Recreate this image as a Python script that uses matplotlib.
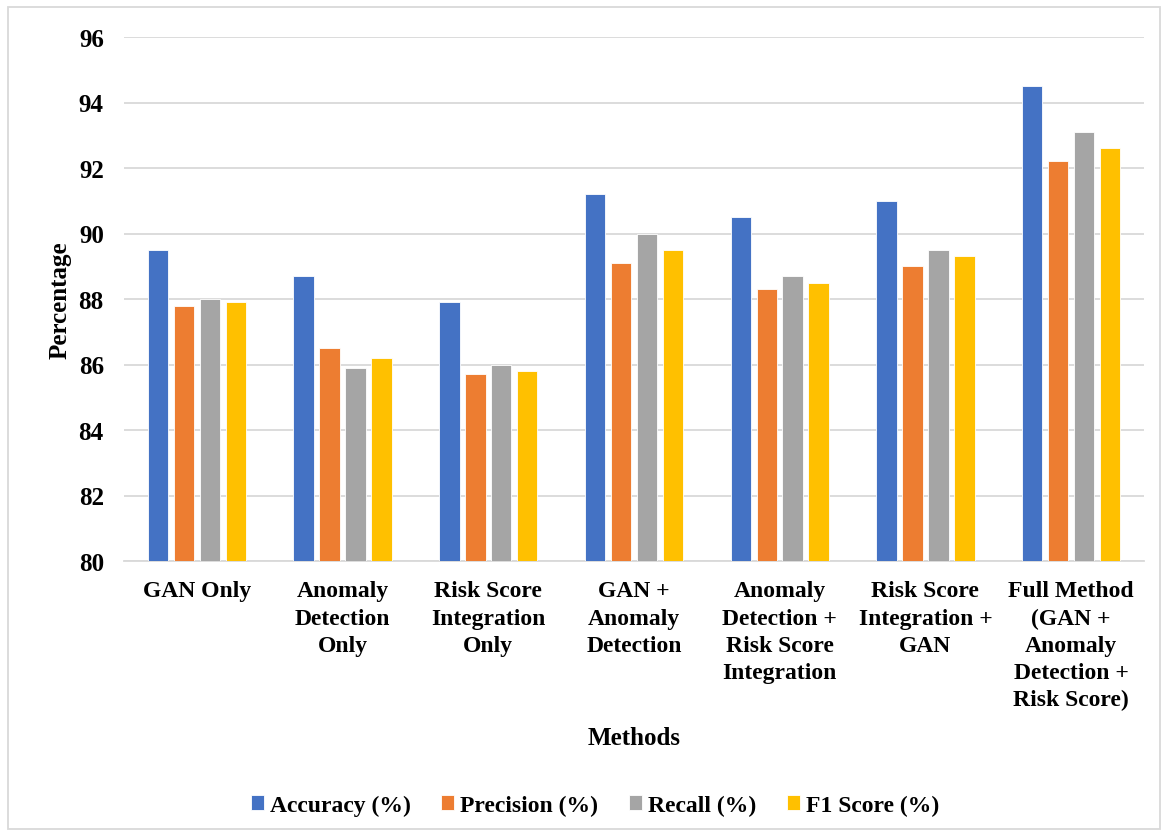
import matplotlib
matplotlib.use("Agg")
import matplotlib.pyplot as plt
import numpy as np
from matplotlib.patches import Rectangle

categories = [
    "GAN Only",
    "Anomaly\nDetection\nOnly",
    "Risk Score\nIntegration\nOnly",
    "GAN +\nAnomaly\nDetection",
    "Anomaly\nDetection +\nRisk Score\nIntegration",
    "Risk Score\nIntegration +\nGAN",
    "Full Method\n(GAN +\nAnomaly\nDetection +\nRisk Score)",
]
series_names = ["Accuracy (%)", "Precision (%)", "Recall (%)", "F1 Score (%)"]
accuracy = [89.5, 88.7, 87.9, 91.2, 90.5, 91.0, 94.5]
precision = [87.8, 86.5, 85.7, 89.1, 88.3, 89.0, 92.2]
recall = [88.0, 85.9, 86.0, 90.0, 88.7, 89.5, 93.1]
f1_score = [87.9, 86.2, 85.8, 89.5, 88.5, 89.3, 92.6]
y_ticks = [80, 82, 84, 86, 88, 90, 92, 94, 96]

colors = ["#4472C4", "#ED7D31", "#A5A5A5", "#FFC000"]

plt.rcParams["font.family"] = ["Liberation Serif", "DejaVu Serif"]
plt.rcParams["font.weight"] = "bold"

fig = plt.figure(figsize=(11.66, 8.37), dpi=100)
ax = fig.add_axes([124 / 1166, 1 - 562 / 837, 1020 / 1166, 524 / 837])

x = np.arange(len(categories))
width = 0.14
pitch = 0.178
all_series = [accuracy, precision, recall, f1_score]
for i, (vals, name, col) in enumerate(zip(all_series, series_names, colors)):
    offset = (i - 1.5) * pitch
    ax.bar(x + offset, np.array(vals) - 80, width, bottom=80, color=col,
           label=name, edgecolor="white", linewidth=0.6, zorder=3)

ax.set_xlim(-0.5, len(categories) - 0.5)
ax.set_ylim(80, 96)
ax.set_yticks(y_ticks)
ax.set_yticklabels([str(t) for t in y_ticks], fontsize=18, fontweight="bold")
ax.set_xticks(x)
ax.set_xticklabels(categories, fontsize=17, fontweight="bold", linespacing=1.38,
                   va="top")
ax.tick_params(axis="both", length=0)
ax.tick_params(axis="y", pad=14.5)
ax.tick_params(axis="x", pad=14)
ax.yaxis.grid(True, color="#D9D9D9", linewidth=1.3, zorder=0)
ax.set_axisbelow(True)
for side in ["top", "right", "left"]:
    ax.spines[side].set_visible(False)
ax.spines["bottom"].set_color("#D9D9D9")
ax.spines["bottom"].set_linewidth(1.3)

fig.text(60 / 1166, 1 - 300 / 837, "Percentage", rotation=90, fontsize=18,
         fontweight="bold", ha="center", va="center")
fig.text(634 / 1166, 1 - 739 / 837, "Methods", fontsize=18, fontweight="bold",
         ha="center", va="center")

leg = fig.legend(loc="center", bbox_to_anchor=(595 / 1166, 1 - 806 / 837), ncol=4,
                 frameon=False, fontsize=17, handlelength=0.55, handleheight=0.6,
                 handletextpad=0.25, columnspacing=1.3)
for t in leg.get_texts():
    t.set_fontweight("bold")

fig.patches.append(Rectangle((8 / 1166, 1 - 830 / 837), 1152 / 1166, 822 / 837,
                             transform=fig.transFigure, fill=False,
                             edgecolor="#D9D9D9", linewidth=1.3))

fig.savefig("out.png", dpi=100)
